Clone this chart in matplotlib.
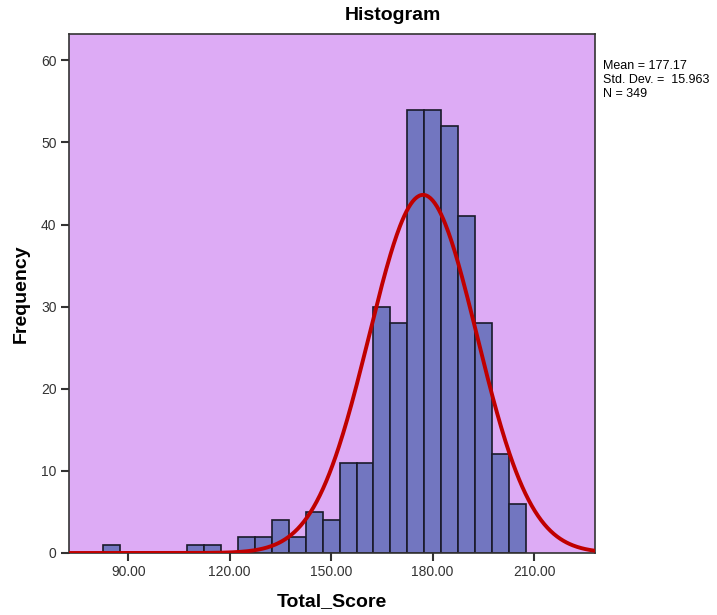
import numpy as np
import matplotlib
matplotlib.use("Agg")
import matplotlib.pyplot as plt

plt.rcParams['font.family'] = ['Liberation Sans', 'DejaVu Sans']

# Data
bin_centers = [85, 90, 95, 100, 105, 110, 115, 120, 125, 130, 135, 140, 145, 150,
               155, 160, 165, 170, 175, 180, 185, 190, 195, 200, 205]
counts = [1, 0, 0, 0, 0, 1, 1, 0, 2, 2, 4, 2, 5, 4,
          11, 11, 30, 28, 54, 54, 52, 41, 28, 12, 6]
bin_width = 5
mean = 177.17
std = 15.963
n = 349
x_ticks = [90, 120, 150, 180, 210]
y_ticks = [0, 10, 20, 30, 40, 50, 60]

fig = plt.figure(figsize=(7.17, 6.15), dpi=100)
ax = fig.add_axes([69/717, 1-553/615, (595-69)/717, (553-34)/615])
ax.set_facecolor('#DDABF5')

bc = np.array(bin_centers, dtype=float)
cn = np.array(counts, dtype=float)
mask = cn > 0
ax.bar(bc[mask], cn[mask], width=bin_width, color='#7276C0', edgecolor='#1a1a2a', linewidth=1.2, zorder=2)

xlim = (72.5, 228)
xs = np.linspace(xlim[0], xlim[1], 500)
ys = n * bin_width / (std * np.sqrt(2*np.pi)) * np.exp(-0.5*((xs-mean)/std)**2)
ax.plot(xs, ys, color='#C00000', linewidth=2.8, zorder=3)

ax.set_xlim(*xlim)
ax.set_ylim(0, 63.2)
ax.set_xticks(x_ticks)
ax.set_xticklabels([f"{t:.2f}" for t in x_ticks])
ax.set_yticks(y_ticks)
ax.tick_params(direction='out', length=6, width=1.5, labelsize=10, colors='#333333', pad=3)
for s in ax.spines.values():
    s.set_color('#333333')
    s.set_linewidth(1.2)

ax.set_xlabel('Total_Score', fontsize=14, fontweight='bold', labelpad=10)
ax.set_ylabel('Frequency', fontsize=14, fontweight='bold', labelpad=8)
fig.text(393/717, 1-16/615, 'Histogram', ha='center', va='center', fontsize=14, fontweight='bold')

fig.text(603/717, 1-66/615, f'Mean = {mean:.2f}', fontsize=9, va='center')
fig.text(603/717, 1-80/615, f'Std. Dev. =  {std:.3f}', fontsize=9, va='center')
fig.text(603/717, 1-94/615, f'N = {n}', fontsize=9, va='center')

fig.savefig('out.png', dpi=100)
